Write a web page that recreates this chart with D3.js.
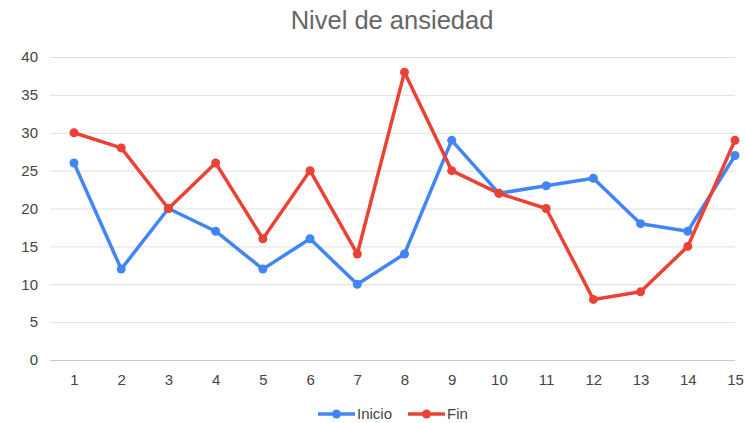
<!DOCTYPE html>
<html>
<head>
<meta charset="utf-8">
<script src="https://cdn.jsdelivr.net/npm/d3@7"></script>
<style>
  body { margin: 0; background: #fff; }
  svg { font-family: "Liberation Sans", Arial, sans-serif; }
</style>
</head>
<body>
<svg class="chart"></svg>
<script>
const size = {w: 746, h: 423};
const margin = {top: 57, right: 11, bottom: 63, left: 50};

// data
const sessions = [1, 2, 3, 4, 5, 6, 7, 8, 9, 10, 11, 12, 13, 14, 15];
const inicio = [26, 12, 20, 17, 12, 16, 10, 14, 29, 22, 23, 24, 18, 17, 27];
const fin = [30, 28, 20, 26, 16, 25, 14, 38, 25, 22, 20, 8, 9, 15, 29];
const yTicks = [0, 5, 10, 15, 20, 25, 30, 35, 40];

const series = [
    {name: 'Inicio', values: inicio, color: '#4285F4'},
    {name: 'Fin', values: fin, color: '#EA4335'}
];

const svg = d3.select('svg.chart')
    .attr('width', size.w)
    .attr('height', size.h);

const x = d3.scalePoint()
    .domain(sessions)
    .range([74, 735]);

const y = d3.scaleLinear()
    .domain([0, 40])
    .range([size.h - margin.bottom, margin.top]);

// title
svg.append('text')
    .attr('x', 392)
    .attr('y', 29)
    .attr('text-anchor', 'middle')
    .attr('font-size', 25.5)
    .attr('fill', '#666')
    .text('Nivel de ansiedad');

// gridlines + y labels
const yAxis = svg.append('g')
    .attr('transform', `translate(${margin.left},0)`)
    .call(d3.axisLeft(y).tickValues(yTicks).tickSize(-(size.w - margin.left - margin.right)).tickPadding(12));
yAxis.select('.domain').remove();
yAxis.selectAll('.tick line').attr('stroke', d => d === 0 ? '#c8c8c8' : '#e0e0e0');
yAxis.selectAll('.tick text')
    .attr('font-size', 15)
    .attr('fill', '#444')
    .attr('font-family', '"Liberation Sans", Arial, sans-serif');

// x labels
const xAxis = svg.append('g')
    .attr('transform', `translate(0,${size.h - margin.bottom})`)
    .call(d3.axisBottom(x).tickSize(0).tickPadding(14));
xAxis.select('.domain').remove();
xAxis.selectAll('.tick text')
    .attr('font-size', 15)
    .attr('fill', '#444')
    .attr('font-family', '"Liberation Sans", Arial, sans-serif');

// lines
const line = d3.line()
    .x((d, i) => x(sessions[i]))
    .y(d => y(d));

const g = svg.selectAll('g.series')
    .data(series)
    .join('g')
    .classed('series', true);

g.append('path')
    .attr('d', d => line(d.values))
    .attr('fill', 'none')
    .attr('stroke', d => d.color)
    .attr('stroke-width', 3.5)
    .attr('stroke-linejoin', 'round');

g.selectAll('circle')
    .data(d => d.values.map((v, i) => ({v, i, color: d.color})))
    .join('circle')
    .attr('cx', d => x(sessions[d.i]))
    .attr('cy', d => y(d.v))
    .attr('r', 4.5)
    .attr('fill', d => d.color);

// legend
const legend = svg.append('g').attr('transform', 'translate(318,414)');
const legendX = [0, 90];
series.forEach((s, i) => {
    const lg = legend.append('g').attr('transform', `translate(${legendX[i]},0)`);
    lg.append('line')
        .attr('x1', 0).attr('x2', 37)
        .attr('stroke', s.color).attr('stroke-width', 3.5);
    lg.append('circle')
        .attr('cx', 18.5).attr('r', 4.5).attr('fill', s.color);
    lg.append('text')
        .attr('x', 39).attr('y', 5)
        .attr('font-size', 15)
        .attr('fill', '#444')
        .text(s.name);
});
</script>
</body>
</html>
